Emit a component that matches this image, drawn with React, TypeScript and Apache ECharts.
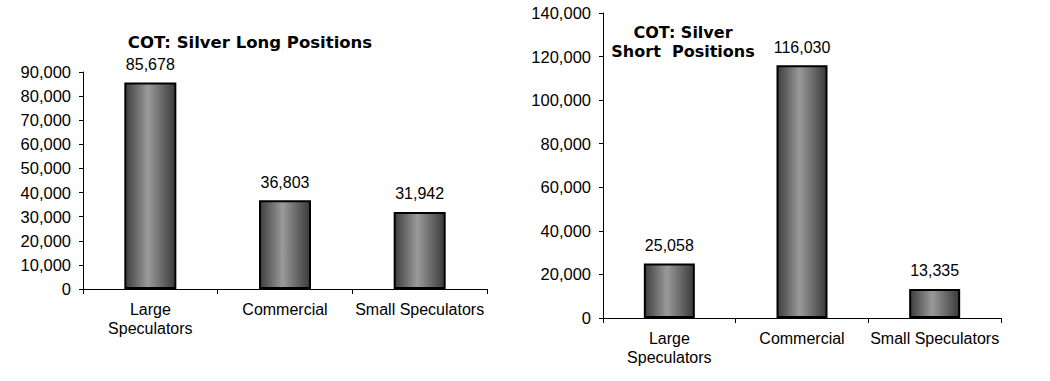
import React, { useEffect, useRef } from "react";
import * as echarts from "echarts";

const categories = ["Large\nSpeculators", "Commercial", "Small Speculators"];
const longValues = [85678, 36803, 31942];
const shortValues = [25058, 116030, 13335];
const longTitle = "COT: Silver Long Positions";
const shortTitle = "COT: Silver\nShort  Positions";

const FONT = '"Liberation Sans", Arial, sans-serif';
const TITLE_FONT = 'bold 16px "DejaVu Sans", Verdana, sans-serif';
const TITLE_FONT_L = 'bold 16.5px "DejaVu Sans", Verdana, sans-serif';

const fmt = (v: number) => v.toLocaleString("en-US");

const barGradient = new echarts.graphic.LinearGradient(0, 0, 1, 0, [
  { offset: 0, color: "#3e3e3e" },
  { offset: 0.45, color: "#9a9a9a" },
  { offset: 1, color: "#3a3a3a" },
]);

function xAxisFor(gridIndex: number) {
  return {
    type: "category",
    gridIndex,
    data: categories,
    axisLine: { show: true, lineStyle: { color: "#000", width: 1 } },
    axisTick: { show: true, length: 5, lineStyle: { color: "#000" } },
    axisLabel: {
      color: "#000",
      fontFamily: FONT,
      fontSize: 16,
      lineHeight: 19,
      margin: 11,
      interval: 0,
    },
    splitLine: { show: false },
  };
}

function yAxisFor(gridIndex: number, max: number, interval: number) {
  return {
    type: "value",
    gridIndex,
    min: 0,
    max,
    interval,
    axisLine: { show: true, lineStyle: { color: "#000", width: 1 } },
    axisTick: { show: true, length: 4, lineStyle: { color: "#000" } },
    axisLabel: {
      color: "#000",
      fontFamily: FONT,
      fontSize: 16.5,
      margin: 12,
      formatter: (v: number) => fmt(v),
    },
    splitLine: { show: false },
  };
}

function barSeries(idx: number, data: number[], barWidth: number) {
  return {
    type: "bar",
    xAxisIndex: idx,
    yAxisIndex: idx,
    data,
    barWidth,
    itemStyle: { color: barGradient, borderColor: "#000", borderWidth: 2 },
    label: {
      show: true,
      position: "top",
      distance: 10,
      color: "#000",
      fontFamily: FONT,
      fontSize: 16,
      formatter: (p: any) => fmt(p.value),
    },
  };
}

export default function App() {
  const ref = useRef<HTMLDivElement>(null);
  useEffect(() => {
    if (!ref.current) return;
    const chart = echarts.init(ref.current, undefined, { renderer: "svg" });
    chart.setOption({
      animation: false,
      backgroundColor: "#fff",
      grid: [
        { left: 83, top: 72, width: 404, height: 217 },
        { left: 603, top: 13, width: 398, height: 305 },
      ],
      xAxis: [xAxisFor(0), xAxisFor(1)],
      yAxis: [yAxisFor(0, 90000, 10000), yAxisFor(1, 140000, 20000)],
      series: [barSeries(0, longValues, 52), barSeries(1, shortValues, 51)],
      graphic: [
        {
          type: "text",
          x: 250,
          y: 42.5,
          style: {
            text: longTitle,
            font: TITLE_FONT_L,
            fill: "#000",
            textAlign: "center",
            textVerticalAlign: "middle",
          },
        },
        {
          type: "text",
          x: 683,
          y: 42,
          style: {
            text: shortTitle,
            font: TITLE_FONT,
            lineHeight: 18.5,
            fill: "#000",
            textAlign: "center",
            textVerticalAlign: "middle",
          },
        },
      ],
    });
    return () => chart.dispose();
  }, []);
  return (
    <div
      ref={ref}
      style={{ position: "fixed", left: 0, top: 0, width: 1050, height: 381 }}
    />
  );
}
